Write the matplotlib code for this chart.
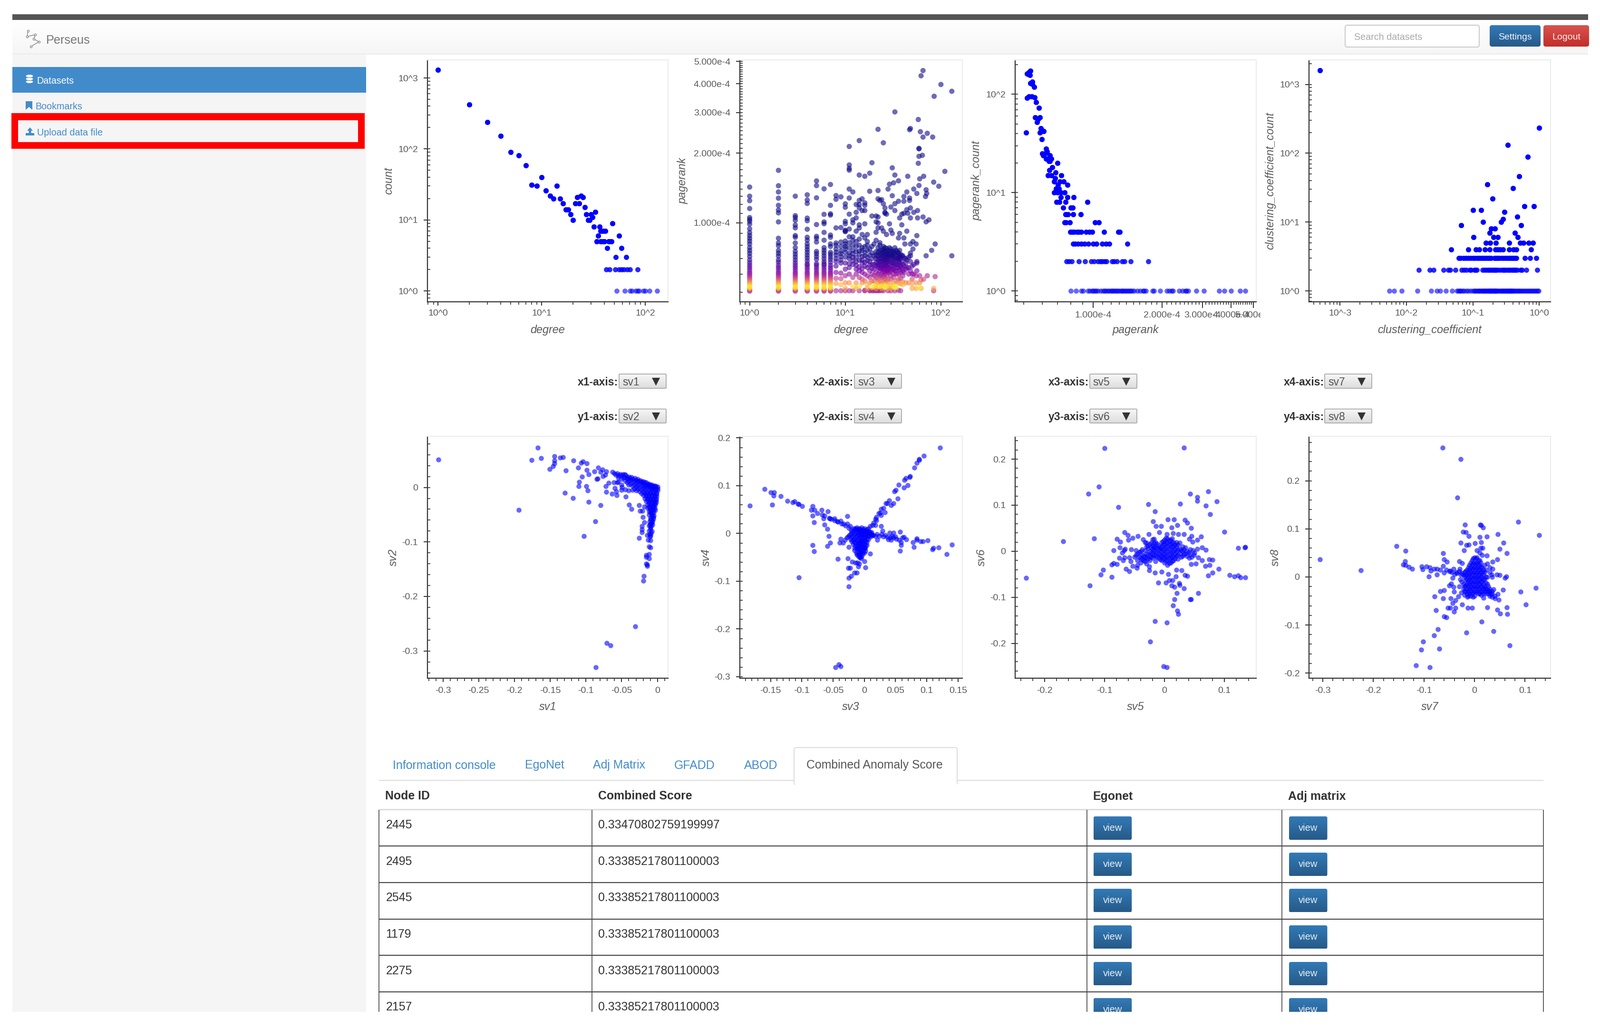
import numpy as np
import matplotlib as mpl
mpl.use("Agg")
import matplotlib.pyplot as plt
from matplotlib.patches import Rectangle, FancyBboxPatch, Ellipse, Polygon
from matplotlib.colors import LinearSegmentedColormap
from matplotlib.ticker import FixedLocator, FixedFormatter, FuncFormatter, LogLocator, MultipleLocator, NullFormatter
from matplotlib.transforms import Bbox

plt.rcParams['font.family'] = ['Liberation Sans', 'DejaVu Sans']
plt.rcParams['axes.unicode_minus'] = False

W, H = 3365, 2163

# degree histogram
degree = [1,2,3,4,5,6,7,8,9,10,11,12,13,14,15,16,17,18,19,20,21,22,23,24,25,26,27,28,29,30,31,32,33,34,35,36,37,
          38,39,41,43,48,52,56,59,65,34,37,39,40,44,45,47,42,45,51,56,59,62,67,71,84,
          53,63,71,74,81,84,87,96,100,110,130]
degree_count = [1300,420,237,153,91,81,59,31,30,40,26,22,20,30,20,17,14,14,12,10,17,21,17,22,21,15,12,10,10,12,11,8,13,5,6,8,7,
                7,7,7,4,9,3,6,4,3,5,5,5,5,5,5,5,2,2,2,2,2,2,2,2,2,
                1,1,1,1,1,1,1,1,1,1,1]

# degree / pagerank (pagerank in units of 1e-4)
pr_tail = [.655,.64,.625,.61,.60,.59,.58,.57,.56,.55,.54,.53,.525,.52,.515,.51,.506]
pr_columns = {
    1: [1.428,1.304,1.247,1.153,1.054,1.034,1.015,.987,.942,.907,.881,.857,.834,.81,.781,.759,.738,.715,.691,.672],
    2: [1.687,1.447,1.36,1.278,1.19,1.136,1.104,1.009,.857,.818,.796,.759,.738,.718,.691,.675],
    3: [1.304,1.074,1.054,1.025,.978,.951,.881,.866,.818,.781,.752,.731,.711,.691,.672],
    4: [1.322,1.255,1.213,1.048,1.021,.938,.866,.841,.81,.788,.766,.745,.724,.705,.685,.665],
    5: [1.518,1.449,1.283,.983,.874,.857,.826,.752,.735,.715,.695,.666],
    6: [1.403,1.088,1.009,.991,.909,.841,.781,.76,.74,.72,.70,.68,.665],
    7: [1.465,1.19,1.094,1.08,.885,.866,.81,.79,.745,.73,.712,.695,.675],
}
pr_sparse_d = [8,8,8,8,8,8,8,8,8,8,8,8,8,8,8, 9,9,9,9,9,9,9,9,9,9,9,9,9, 10,10,10,10,10,10,10,10,10,10,10,10,10,10,10,10,10,10]
pr_sparse_v = [1.312,1.264,.951,.818,.80,.77,.745,.725,.70,.68,.65,.61,.575,.547,.508,
               1.295,.954,.826,.79,.755,.735,.715,.69,.67,.606,.573,.54,.508,
               1.208,1.168,1.015,.991,.929,.916,.834,.81,.79,.77,.745,.71,.67,.63,.59,.55,.52,.508]
pr_upper_d = [65,62,100,130,85,33,58,22,48,47,61,72,65,82,14,25,11,59,59,59,64,19,58,11,11,11,31,18,110,14,16,33,45,66,60,36,84,32,29,59,95,
              28,11,52,70,12,18,22,44,71,56,69,31,41,11,47,47,14,15,22,23,24,13,14,16,16,25,33,36,41,30,14,15,16,26,26,33,
              44,48,57,52,45,39,41,13,11,19,21,22,26,27,37,48,57,65,75,70,13,12,12,16,14,21,22,29,39,
              14,13,11,10,22,24,25,30,44,31,15,17,21,27,37,56,11,12,14,16,36,41,12,13,17,21,51,55,87,48,42,80,51,70,130,56,48,23,25]
pr_upper_v = [4.56,4.33,3.97,3.71,3.53,3.02,2.8,2.54,2.56,2.53,2.48,2.44,2.35,2.35,2.27,2.22,2.14,2.09,2.1,1.94,1.96,1.82,1.81,1.78,1.72,1.69,1.73,1.64,1.67,1.61,1.59,1.61,1.59,1.59,1.55,1.52,1.5,1.49,1.47,1.45,1.44,
              1.4,1.4,1.4,1.39,1.36,1.37,1.38,1.36,1.34,1.34,1.3,1.31,1.3,1.28,1.28,1.25,1.25,1.27,1.27,1.25,1.26,1.2,1.2,1.22,1.19,1.21,1.21,1.24,1.24,1.17,1.16,1.13,1.13,1.16,1.11,1.13,
              1.14,1.16,1.13,1.11,1.1,1.09,1.1,1.11,1.09,1.07,1.07,1.06,1.1,1.09,1.05,1.05,1.05,1.06,1.03,1.01,1.05,1.03,1.0,.99,.98,1.01,1.0,.99,.98,
              .95,.92,.94,.92,.95,.95,.92,.93,.92,.9,.89,.89,.91,.89,.9,.88,.87,.87,.85,.86,.86,.86,.84,.83,.83,.84,.83,.81,.81,.81,.81,.76,.77,.72,.72,.68,.74,.82,.79]
pr_cluster = {
    11: [.82,.78,.74,.70,.64,.60,.55,.508], 12: [.80,.76,.71,.66,.58,.53,.508], 13: [.79,.75,.68,.63,.60,.55,.52],
    14: [.80,.73,.69,.62,.58,.53,.508], 15: [.78,.76,.67,.61,.57,.55], 16: [.79,.72,.65,.60,.56,.51,.508],
    17: [.80,.71,.64,.59,.54,.52], 18: [.77,.68,.62,.58,.55,.51,.508], 19: [.74,.66,.60,.56,.525,.508],
    20: [.81,.72,.66,.63,.59,.56,.53,.51,.508], 21: [.75,.70,.65,.61,.58,.54,.52,.508],
    22: [.78,.72,.67,.64,.60,.57,.55,.53,.51,.508], 23: [.76,.70,.66,.62,.59,.56,.53,.508],
    24: [.74,.70,.66,.63,.60,.58,.55,.52,.51], 25: [.77,.72,.68,.65,.61,.585,.56,.53,.508],
    26: [.78,.73,.69,.66,.63,.60,.57,.54,.525], 27: [.75,.71,.67,.62,.59,.56,.53], 28: [.76,.72,.68,.64,.61,.57,.55,.52,.508],
    30: [.77,.73,.70,.65,.62,.59,.57,.54,.52,.508], 32: [.75,.71,.67,.63,.60,.58,.55,.53], 33: [.53,.508,.525],
    34: [.76,.72,.69,.66,.62,.60,.56,.525], 36: [.74,.71,.68,.64,.60,.57,.55,.51], 38: [.73,.70,.65,.61,.575,.545,.508],
    40: [.72,.66,.62,.59,.555,.54], 43: [.70,.67,.63,.55], 46: [.71,.64,.60,.55], 50: [.65,.60,.57,.545,.52],
    55: [.59,.55,.52], 60: [.59,.55,.525], 62: [.565,.52], 66: [.57], 72: [.59], 84: [.52,.508], 87: [.585],
}
pr_cluster_more = {
    11: [.72,.665], 12: [.735,.685], 13: [.71,.655], 14: [.755,.645], 15: [.715,.69,.635], 16: [.745,.675], 17: [.76,.685],
    18: [.725,.655], 19: [.79,.70,.635], 21: [.725,.675], 22: [.745,.695,.655], 23: [.80,.73,.68,.635], 24: [.76,.72,.68,.645],
    25: [.745,.695,.63], 26: [.755,.71,.675,.645,.615], 27: [.775,.73,.69,.65], 28: [.74,.70,.66,.625],
    29: [.78,.725,.685,.64,.61], 30: [.75,.715,.675], 31: [.755,.72,.67,.63], 32: [.73,.69,.65], 33: [.78,.74,.70,.66,.62],
    35: [.75,.70,.64], 36: [.725,.695,.66], 37: [.76,.71,.67,.625], 39: [.72,.68,.635], 41: [.705,.65,.61], 44: [.69,.64],
    48: [.72,.68,.62], 52: [.66,.60], 56: [.67,.62],
}
# pagerank -> position on the plasma map (colour follows pagerank_count)
pr_colour_at = [.50, .51, .525, .535, .55, .575, .60, .64, .70, .75]
pr_colour_val = [.35, .40, .98, .90, .72, .45, .30, .15, .03, .0]

# pagerank histogram (pagerank in units of 1e-4)
pagerank_bin = [.533,.527,.52,.515,.53,.533,.544,.544,.553,.515,.526,.542,.558,.564,.581,.511,.56,.587,.575,.57,.593,.587,.609,.597,.599,
                .623,.63,.602,.618,.649,.606,.623,.649,.642,.658,.70,.665,.646,.688,.637,.659,.727,.685,.678,.717,.744,.704,.775,.689,.711,
                .678,.70,.725,.752,.725,.773,.824,.692,.713,.759,.945,.74,.802,.815,
                .758,.778,.818,.883,.751,.764,.794,1.02,1.062,
                .797,.813,.828,.851,.869,.89,.932,.964,.99,1.117,1.29,1.31,
                .818,.834,.86,.887,.917,.955,1.0,1.034,1.095,1.14,1.18,1.413,
                .765,.786,.807,.867,.924,.984,1.01,1.051,1.073,1.095,1.122,1.144,1.21,1.235,1.272,1.338,1.371,1.456,1.745]
pagerank_bin_count = [174,167,161,163,157,130,135,127,119,92,95,95,93,83,73,41,58,58,56,52,45,41,42,43,35,
                      28,26,25,25,24,24,22,21,21,22,20,18,17,16,15,15,15,14,13,13,13,12,12,11,11,
                      10,10,10,10,9,9,9,8,8,8,8,7,7,7,
                      6,6,6,6,5,5,5,5,5,
                      4,4,4,4,4,4,4,4,4,4,4,4,
                      3,3,3,3,3,3,3,3,3,3,3,3,
                      2,2,2,2,2,2,2,2,2,2,2,2,2,2,2,2,2,2,2]
pagerank_single = [.802,.843,.887,.905,.97,.99,1.02,1.051,1.106,1.14,1.175,1.21,1.247,1.285,1.325,1.379,1.42,1.46,1.51,1.604,1.703,1.815,1.96,2.1,2.235,2.373,2.52,2.6,2.815,3.037,3.546,3.73,4.0,4.38,4.6,
                   .95,1.0,1.03,1.08,1.12,1.16,1.2,1.23,1.265,1.3,1.34,1.36,1.4,1.44,1.48,1.56,1.65,1.67,1.84,2.15,2.2,2.45,2.55]

# clustering coefficient histogram
cc_bin = [.0005,1.0,.333,.667,.5,.166,.4,.198,.1,.133,.6,.83,.3,.465,.284,.266,.142,.0663,.533,.189,.216,.179,.43,.103,.2056,.239,.472,
          .157,.181,.221,.354,.514,.576,.694,.80,
          .0474,.0853,.112,.1246,.152,.178,.218,.237,.2585,.284,.354,.412,.452,.757]
cc_count = [1592,235,131,89,46,35,31,22,15,15,17,17,14,12,11,10,10,9,9,8,8,7,7,6,6,6,6,
            5,5,5,5,5,5,5,5,
            4,4,4,4,4,4,4,4,4,4,4,4,4,4]
cc_three = [.061,.066,.072,.078,.085,.092,.1,.108,.116,.125,.133,.142,.15,.16,.17,.18,.19,.21,.22,.23,.24,.25,.27,.29,.31,.33,.35,.37,.39,.41,.43,.45,.61,.73,.9]
cc_two = [.0154,.0224,.0258,.0364,.0426,.0457,.0547,.068,.073,.08,.09,.095,.105,.11,.115,.14,.15,.16,.17,.18,.19,.2,.21,.22,.23,.25,.27,.29,.3,.32,.34,.36,.38,.4,.42,.44,.47,.52,.55,.64,.93]
cc_one = [.0055,.0065,.0085,.0146,.0235,.0288,.032,.0396,.0491,.057,.06,.063,.066,.07,.074,.08,.086,.092,.1,.105,.11,.115,.12,.125,.13,.135,.14,.145,.15,.155,.16,.165,.17,.175,.18,.185,.19,.195,.2,.205,.21,.215,.22,.225,.23,.24,.25,.26,.27,.28,.29,.3,.31,.32,.33,.34,.35,.36,.37,.38,.39,.4,.42,.44,.46,.48,.5,.52,.55,.58,.61,.64,.67,.7,.74,.78,.82,.86,.9,.95,.98]

sv1_sv2 = [(-.3066,.0511),(-.1676,.0731),(-.176,.0499),(-.163,.0537),(-.1442,.057),(-.1363,.0549),(-.132,.0558),(-.1442,.0494),(-.1442,.0439),(-.1458,.0393),(-.1505,.0334),
           (-.1282,.0313),(-.1176,.049),(-.107,.0448),(-.1043,.0477),(-.0991,.0444),(-.1108,.0363),(-.0989,.0321),(-.0961,.0241),(-.1056,.0199),
           (-.0883,.0296),(-.0826,.0359),(-.0798,.0287),(-.0771,.0325),(-.076,.0207),(-.0731,.0232),(-.0717,.0296),(-.0847,.0152),(-.0835,.0158),(-.1092,.0101),(-.1103,.0025),(-.0997,.0021),(-.0975,-.0059),
           (-.1293,-.0101),(-.1179,-.0194),(-.0961,-.0262),(-.1942,-.041),(-.0796,-.0325),(-.0872,-.0621),(-.1029,-.0891),
           (-.0725,.0021),(-.0717,-.0084),(-.0684,.0084),(-.0608,.0093),(-.0597,-.0013),(-.0636,-.0118),(-.0562,.0093),(-.0576,-.0076),(-.057,-.0139),
           (-.0494,.0008),(-.0445,-.0173),(-.0399,-.0321),(-.0364,-.0393),(-.0255,-.033),(-.0182,-.0351),(-.0244,-.0427),(-.0209,-.0427),(-.0201,-.0541),(-.0182,-.0638),
           (-.0217,-.071),(-.0217,-.0773),(-.0217,-.0824),(-.0255,-.0929),(-.0141,-.0879),(-.01,-.0887),(-.0128,-.0963),(-.01,-.0972),(-.012,-.1082),(-.01,-.1098),
           (-.0155,-.1238),(-.012,-.1225),(-.0155,-.128),(-.012,-.1301),(-.0155,-.1398),(-.0141,-.1415),(-.0141,-.1441),(-.0187,-.1627),(-.0196,-.1715),
           (-.0307,-.2552),(-.0712,-.2856),(-.0657,-.2898),(-.0864,-.33),
           (-.063,.028),(-.06,.026),(-.056,.026),(-.052,.024),(-.048,.024),(-.0454,.024),(-.044,.022),(-.04,.02),(-.036,.019),(-.032,.017),(-.028,.015),(-.024,.013),(-.02,.011),(-.016,.009),(-.012,.007),(-.008,.005),(-.004,.003),(0,.001),
           (-.055,.018),(-.05,.015),(-.045,.012),(-.04,.013),(-.035,.01),(-.03,.008),(-.025,.007),(-.02,.005),(-.015,.004),(-.01,.002),(-.005,.001),(-.04,.005),(-.035,.003),(-.03,.001),(-.025,.0),(-.02,-.001),(-.015,-.001),(-.01,-.002),(-.005,-.002),(0,-.002),
           (-.03,-.006),(-.025,-.007),(-.02,-.008),(-.015,-.008),(-.01,-.008),(-.005,-.008),(0,-.006),(-.05,.005),(-.055,.01),(-.045,-.004),(-.05,-.005),(-.04,-.006),(-.035,-.005),
           (-.02,-.014),(-.016,-.014),(-.012,-.014),(-.008,-.014),(-.004,-.014),(-.001,-.012),(-.018,-.02),(-.014,-.02),(-.01,-.02),(-.006,-.02),(-.002,-.02),(-.016,-.026),(-.012,-.026),(-.008,-.026),(-.004,-.026),
           (-.014,-.032),(-.01,-.032),(-.006,-.032),(-.003,-.032),(-.014,-.038),(-.011,-.038),(-.007,-.038),(-.004,-.038),(-.012,-.044),(-.009,-.044),(-.005,-.046),(-.012,-.05),(-.008,-.05),(-.006,-.054),(-.01,-.056),(-.008,-.06),(-.011,-.063),(-.007,-.062),(-.009,-.066),(-.012,-.07),(-.009,-.071),(-.01,-.077),(-.008,-.081),(-.011,-.086)]
sv1_sv2_core = [(-.0475,.018),(-.0425,.016),(-.0375,.014),(-.0325,.012),(-.0275,.011),(-.0225,.009),(-.0175,.007),(-.0125,.005),(-.0075,.003),(-.0025,.002),(-.0425,.009),(-.0375,.007),(-.0325,.005),(-.0275,.004),(-.0225,.003),(-.0175,.002),(-.0125,.001),(-.0075,0),(-.0025,-.001),
                (-.0325,-.002),(-.0275,-.003),(-.0225,-.004),(-.0175,-.004),(-.0125,-.005),(-.0075,-.005),(-.0025,-.005),(-.0225,-.011),(-.018,-.011),(-.014,-.011),(-.01,-.011),(-.006,-.011),(-.002,-.01),(-.016,-.017),(-.012,-.017),(-.008,-.017),(-.004,-.017),(-.001,-.016),
                (-.014,-.023),(-.01,-.023),(-.006,-.023),(-.002,-.023),(-.012,-.029),(-.008,-.029),(-.004,-.029),(-.002,-.027),(-.012,-.035),(-.008,-.035),(-.005,-.035),(-.01,-.041),(-.006,-.041),(-.003,-.041),(-.01,-.047),(-.007,-.047),(-.008,-.053),(-.005,-.052),(-.0095,-.059),(-.006,-.058),(-.008,-.0645),(-.0105,-.068),(-.007,-.068),(-.0095,-.074),(-.0115,-.08),(-.009,-.084),(-.0105,-.09),
                (-.058,.023),(-.054,.021),(-.05,.022),(-.046,.019),(-.042,.018),(-.038,.017),(-.034,.015),(-.03,.014),(-.026,.012),(-.022,.01),(-.018,.009),(-.014,.006),(-.01,.004),(-.006,.002)]

sv3_sv4 = [(.1214,.1798),(.0954,.1624),(.0881,.1557),(.0874,.1537),(.0842,.1475),(.08,.1378),(.0736,.12),(.0727,.1181),(.0666,.1161),(.064,.1123),(.0551,.1017),(.0631,.0964),(.0698,.1007),
           (.0506,.0911),(.0484,.0882),(.0535,.0733),(.0464,.0627),(.04,.0694),(.0368,.0631),(.0343,.0631),(.0426,.0588),(.0304,.053),(.0272,.0516),(.033,.0443),(.0256,.0434),(.0272,.0381),(.0234,.0419),
           (.0192,.0347),(.0176,.0299),(.0192,.0275),(.0144,.0227),(.0128,.0178),(.0096,.0154),(.0064,.0106),(.0176,.0178),(.0272,.0154),
           (-.1832,.0583),(-.1595,.0925),(-.1499,.0863),(-.1441,.0863),(-.1451,.0795),(-.1473,.0598),(-.1335,.0776),(-.1233,.0684),(-.1143,.0651),(-.1118,.0675),(-.1066,.0622),(-.1047,.0612),(-.0996,.0573),
           (-.0826,.0573),(-.0849,.0492),(-.08,.0492),(-.0826,.0371),(-.0804,.0236),(-.0752,.0419),(-.0679,.0487),(-.0586,.0467),(-.0672,.0395),(-.064,.0371),(-.065,.0313),(-.056,.0323),(-.064,.0188),(-.0592,.0096),(-.057,-.0053),(-.0544,-.0193),(-.0592,-.026),
           (-.0826,-.0246),(-.0807,-.0376),(-.1044,-.0925),(-.0528,.0299),(-.048,.0313),(-.0432,.0251),(-.0375,.0265),(-.0336,.0202),(-.0272,.0202),(-.0272,.0361),(-.0224,.0154),(-.0176,.0106),(-.0128,.0082),
           (-.0375,-.0111),(-.0394,-.0193),(-.0343,-.0198),(-.0311,-.0135),(-.0279,-.0087),(-.025,-.028),(-.0256,-.0063),(-.0423,-.0535),
           (.0128,-.0039),(.0176,-.0053),(.024,-.0053),(.0304,-.0063),(.0368,-.0072),(.0416,-.0087),(.0464,-.0087),(.0512,-.0111),(.056,-.0135),(.0608,-.0087),(.0634,-.0077),(.0669,-.0125),(.0586,-.0183),(.0576,-.0361),(.0586,-.0246),(.0576,.0034),(.0464,.0014),(.0406,.0014),(.0288,.0058),(.0208,-.0135),(.0384,-.012),(.0432,-.0135),
           (.0775,-.0183),(.0797,-.028),(.0836,-.0101),(.0836,-.0135),(.0903,-.0169),(.0938,-.0169),(.1015,-.014),(.1089,-.0333),(.1105,-.0304),(.1191,-.0294),(.1319,-.0429),(.1403,-.0236),
           (-.0096,-.0255),(-.0064,-.0207),(-.0032,-.028),(-.016,-.0352),(-.0128,-.04),(-.0096,-.0472),(-.0064,-.04),(-.0048,-.052),(0,-.0583),(0,-.04),(.0096,-.0424),(-.0192,-.0593),(-.0144,-.0617),(-.0112,-.0617),(-.008,-.0631),(-.0096,-.0689),(.0016,-.0713),(-.0256,-.0718),(-.0224,-.0718),(-.016,-.0819),(-.0118,-.0819),(-.0208,-.0892),(-.0247,-.093),(-.0247,-.1113),(-.0266,-.0525),(-.0064,-.0496),(0,-.0304),(-.0112,-.0328),(-.016,-.0304),(-.0048,-.0159),
           (-.0458,-.28),(-.0407,-.2742),(-.0381,-.2781),
           (-.024,-.004),(-.02,.002),(-.016,.008),(-.012,.012),(-.008,.01),(-.004,.012),(0,.01),(.004,.008),(.008,.004),(.012,.002),(-.022,-.012),(-.018,-.006),(-.014,0),(-.01,.004),(-.006,.004),(-.002,.004),(.002,.002),(.006,0),(.01,-.002),(.014,-.004),
           (-.02,-.016),(-.016,-.012),(-.012,-.006),(-.008,-.002),(-.004,-.002),(0,-.002),(.004,-.004),(.008,-.006),(-.018,-.022),(-.014,-.018),(-.01,-.012),(-.006,-.008),(-.002,-.008),(.002,-.008),(.006,-.012),(-.012,-.024),(-.008,-.018),(-.004,-.014),(0,-.014),(.004,-.018),
           (-.01,-.03),(-.006,-.024),(-.002,-.02),(.002,-.024),(-.004,-.03),(0,-.03),(-.006,-.036),(-.002,-.038),(.002,-.036),(-.008,-.044),(-.004,-.048)]
sv3_sv4_core = [(-.022,-.002),(-.018,.004),(-.014,.01),(-.01,.008),(-.006,.008),(-.002,.008),(.002,.006),(.006,.004),(.01,.001),(-.02,-.008),(-.016,-.002),(-.012,.002),(-.008,.004),(-.004,.005),(0,.003),(.004,.001),(.008,-.001),(.012,-.003),(-.018,-.013),(-.014,-.009),(-.01,-.004),(-.006,-.002),(-.002,-.003),(.002,-.004),(.006,-.005),(.01,-.007),
                (-.016,-.018),(-.012,-.014),(-.008,-.01),(-.004,-.008),(0,-.009),(.004,-.011),(-.014,-.025),(-.01,-.02),(-.006,-.016),(-.002,-.014),(.002,-.016),(-.012,-.03),(-.008,-.026),(-.004,-.021),(0,-.021),(.004,-.024),(-.008,-.033),(-.002,-.029),(.002,-.03),(-.01,-.04),(-.004,-.036),(-.006,-.042),(-.012,-.044),(-.003,-.043),(-.007,-.05),
                (.028,-.002),(.02,-.002),(.034,-.004),(.044,-.006),(.05,-.007),(-.03,.016),(-.036,.02),(-.042,.024),(-.048,.027),(-.055,.031),(-.025,.011),(-.021,.006)]

sv5_sv6 = [(-.2309,-.0584),(-.1694,.022),(-.1176,.0275),(-.127,.1248),(-.1093,.1403),(-.0999,.2237),(.0321,.2247),(-.0768,.0954),(-.0271,.1018),(-.0157,.0869),(.0261,.1033),(.0424,.1243),(.0545,.1178),(.0545,.1093),(.0732,.1303),(.0872,.1078),(.0692,.0989),(.0762,.0799),
           (.0996,.0419),(.123,.007),(.1336,.0085),(.1347,.009),(.1089,-.0519),(.1169,-.0549),(.123,-.0529),(.127,-.0569),(.1346,-.0564),(.0902,-.0379),(.0802,-.0464),(.0725,-.0529),
           (.0565,-.0914),(.0444,-.1043),(.0428,-.1043),(.0204,-.0914),(.0167,-.1043),(.0144,-.1178),(.021,-.1288),(.0227,-.1368),(.0037,-.1553),(-.0157,-.1518),(-.0241,-.1962),(-.0013,-.2501),(.0037,-.2516),
           (-.1243,-.0739),(-.1066,-.0504),(-.1026,-.0399),(-.0879,-.0554),
           (-.0792,.027),(-.0735,.021),(-.0748,.008),(-.0665,.041),(-.0615,.035),(-.0601,.025),(-.0531,.029),(-.0448,.033),(-.0658,.0055),(-.0558,.0045),(-.0675,.002),(-.0708,-.003),(-.0849,.002),(-.0758,-.015),(-.0668,-.013),(-.0692,-.0195),(-.0585,-.014),(-.0568,-.022),
           (-.0885,-.029),(-.0849,-.0255),(-.0792,-.028),(-.0641,-.038),(-.0585,-.043),(-.0531,-.032),(-.0458,-.0365),(-.0474,.002),(-.0251,-.033),(-.0251,-.0415),(-.0157,-.047),(-.0047,-.044),(.006,-.0495),(.002,-.068),(.0077,-.063),(.0137,-.063),(-.0107,-.0685),(.012,-.074),(.0167,-.078),(.0244,-.069),(.0254,-.073),(.0321,-.081),
           (.0187,-.0545),(.02,-.04),(.0287,-.041),(.0344,-.052),(.0378,-.054),(.0444,-.028),(.0521,-.0265),(.0678,-.032),(.0752,-.0305),(.0802,-.019),(.0745,-.018),(.0628,-.0195),(.0565,-.013),(.0411,-.0145),(.0494,-.008),(.0688,.0035),(.0628,.008),(.0545,.0055),(.0478,.002),
           (.0611,.032),(.0545,.0245),(.0468,.021),(.0411,.027),(.0454,.033),(.0327,.037),(.0227,.037),(.0378,.062),(.0444,.0505),(.0344,.0685),(.021,.057),(.016,.0695),(.0053,.0695),(.012,.052),(-.0057,.0545),(-.014,.0545),(-.019,.0645),(-.009,.041),(.0037,.037),(-.0264,.037),(-.0174,.027),(-.0357,.026),(.0144,.0395),
           (-.05,-.012),(-.045,-.02),(-.045,-.005),(-.04,-.015),(-.04,-.025),(-.04,.0),(-.035,-.01),(-.035,-.02),(-.03,-.005),(-.03,-.015),(-.03,.01),(-.03,.018),(-.025,.0),(-.025,-.01),(-.025,.015),(-.025,-.02),(-.02,.005),(-.02,-.005),(-.02,.012),(-.02,-.015),(-.015,.01),(-.015,0),(-.015,-.01),(-.015,.02),
           (-.01,.005),(-.01,-.005),(-.01,.012),(-.01,-.015),(-.005,.01),(-.005,0),(-.005,-.01),(-.005,.02),(-.005,-.02),(0,.015),(0,.005),(0,-.005),(0,-.015),(0,.025),(0,-.025),(.005,.02),(.005,.01),(.005,0),(.005,-.01),(.005,-.02),(.005,.028),(.005,-.03),
           (.01,.015),(.01,.005),(.01,-.005),(.01,-.015),(.01,.025),(.01,-.025),(.015,.02),(.015,.01),(.015,0),(.015,-.01),(.015,-.02),(.02,.01),(.02,0),(.02,-.01),(.02,.02),(.025,.005),(.025,-.005),(.03,0),(.03,-.01),(.035,-.005),(.04,-.002),(.035,.008)]
sv5_sv6_core = [(-.0475,-.008),(-.0425,-.012),(-.0425,-.002),(-.0375,-.007),(-.0375,-.018),(-.0375,.004),(-.0325,-.012),(-.0325,.002),(-.0325,-.022),(-.0275,-.007),(-.0275,.006),(-.0275,.012),(-.0275,-.017),(-.0225,-.003),(-.0225,.008),(-.0225,-.012),(-.0225,.018),(-.0175,.002),(-.0175,-.008),(-.0175,.008),(-.0175,.017),
                (-.0125,.007),(-.0125,-.003),(-.0125,-.012),(-.0125,.016),(-.0075,.002),(-.0075,-.008),(-.0075,.008),(-.0075,-.018),(-.0025,.014),(-.0025,.004),(-.0025,-.006),(-.0025,-.016),(-.0025,.022),(.0025,.02),(.0025,.009),(.0025,-.001),(.0025,-.011),(.0025,-.021),(.0025,.029),
                (.0075,.024),(.0075,.014),(.0075,.004),(.0075,-.006),(.0075,-.016),(.0075,-.026),(.0125,.018),(.0125,.009),(.0125,-.002),(.0125,-.012),(.0125,-.022),(.0125,.028),(.0175,.014),(.0175,.004),(.0175,-.006),(.0175,-.016),(.0225,.014),(.0225,.003),(.0225,-.007),(.0225,-.017),
                (.0275,.002),(.0275,-.012),(.0325,.004),(.0325,-.006),(.0375,.0),(.0375,-.01),(.0425,-.006),(.0425,.004),(.025,.018),(.03,.01),(-.033,.02),(-.02,.026),(-.015,-.022),(-.045,-.03),(-.03,-.027),(.045,-.012),(.05,-.003)]

sv7_sv8 = [(-.3053,.0364),(-.2245,.0139),(-.1547,.0637),(-.1363,.0546),(-.1376,.0326),(-.1408,.0259),(-.1363,.0244),(-.1294,.0211),(-.1229,.0163),(-.0629,.2692),(-.0269,.2447),(-.0335,.1652),
           (.0861,.1145),(.1278,.0867),(-.0192,.1082),(.0114,.1082),(.0135,.1073),(.0167,.1025),(-.0224,.0939),(-.0167,.0924),(-.011,.0852),(.0106,.0833),(.0241,.0843),(.0461,.0886),
           (.0576,.0709),(.0498,.058),(.0641,.0493),(-.0269,.0714),(-.0159,.0661),(-.011,.0675),(.0012,.0699),(.0135,.0723),(.0155,.0603),(-.0212,.0556),(-.062,.0493),(-.06,.0364),(-.0547,.0316),(-.0306,.033),(-.0241,.0283),(.0449,.0364),(.0359,.0316),(.0241,.0441),
           (-.1041,.022),(-.1029,.0158),(-.0947,.022),(-.0886,.0196),(-.0804,.0172),(-.0743,.0163),(-.0682,.0148),(-.062,.023),(-.0559,.0148),(-.0478,.0125),(-.0416,.0172),(-.0355,.0101),(-.0294,.0172),(-.0273,.0053),(-.0743,.0053),(-.0906,.0005),(-.0865,.0125),(-.06,.0086),
           (-.0437,-.0019),(-.0457,-.0139),(-.0498,-.0177),(-.0416,-.0211),(-.0408,-.0306),(-.06,-.0282),(-.0682,-.0297),(-.0792,-.0402),(-.062,-.0441),(-.0469,-.0441),(-.0322,-.0402),(-.0376,-.0489),(-.0437,-.0546),(-.0241,-.057),(-.0527,-.0642),(-.0478,-.0642),(-.0376,-.0642),(-.0408,-.0723),(-.0763,-.0689),(-.06,-.0823),(-.0559,-.0843),
           (-.0722,-.1087),(-.0804,-.1216),(-.102,-.1346),(-.1057,-.1513),(-.0694,-.1489),(-.1159,-.1838),(-.0882,-.1877),(-.0159,-.1154),(.0143,-.0929),(.0371,-.113),(.0698,-.1422),(-.0131,-.0642),(-.0049,-.0642),(.0257,-.0632),(.0637,-.0632),(.0453,-.068),(.051,-.0761),(.0649,-.0776),(.1016,-.0579),(.0914,-.0312),(.1208,-.0225),
           (.0216,-.0235),(.0278,-.0283),(.0318,-.0354),(.038,-.0259),(.04,-.045),(.0461,-.0354),(.0482,-.0474),(.0176,-.044),(.0135,-.0378),(.0563,-.0268),(.0604,-.0019),(.0633,.0005),(.0441,.0053),(.0502,.0038),(.0359,.0172),(.0339,.0053),
           (-.025,-.01),(-.02,.01),(-.02,-.02),(-.02,0),(-.02,-.03),(-.015,.015),(-.015,.005),(-.015,-.005),(-.015,-.015),(-.015,-.025),(-.015,-.035),(-.01,.025),(-.01,.015),(-.01,.005),(-.01,-.005),(-.01,-.015),(-.01,-.025),(-.01,-.035),
           (-.005,.035),(-.005,.025),(-.005,.015),(-.005,.005),(-.005,-.005),(-.005,-.015),(-.005,-.025),(-.005,-.035),(0,.04),(0,.03),(0,.02),(0,.01),(0,0),(0,-.01),(0,-.02),(0,-.03),(0,-.04),(.005,.04),(.005,.03),(.005,.02),(.005,.01),(.005,0),(.005,-.01),(.005,-.02),(.005,-.03),
           (.01,.035),(.01,.025),(.01,.015),(.01,.005),(.01,-.005),(.01,-.015),(.01,-.025),(.01,-.035),(.015,.02),(.015,.01),(.015,0),(.015,-.01),(.015,-.02),(.015,-.03),(.02,.025),(.02,.01),(.02,-.005),(.02,-.02),(.02,-.03),(.025,0),(.025,-.015),(.025,-.03),(.03,.01),(.03,-.03),(.035,-.035),(.03,-.04),(.015,.045),(.01,.05),(.005,.055),(.012,.06)]
sv7_sv8_core = [(-.022,.005),(-.022,-.015),(-.022,-.025),(-.0175,.012),(-.0175,.003),(-.0175,-.007),(-.0175,-.018),(-.0175,-.03),(-.0125,.02),(-.0125,.01),(-.0125,0),(-.0125,-.01),(-.0125,-.02),(-.0125,-.03),(-.0125,-.04),(-.0075,.03),(-.0075,.02),(-.0075,.01),(-.0075,0),(-.0075,-.01),(-.0075,-.02),(-.0075,-.03),(-.0075,-.04),
                (-.0025,.038),(-.0025,.028),(-.0025,.018),(-.0025,.008),(-.0025,-.002),(-.0025,-.012),(-.0025,-.022),(-.0025,-.032),(-.0025,-.042),(.0025,.038),(.0025,.028),(.0025,.018),(.0025,.008),(.0025,-.002),(.0025,-.012),(.0025,-.022),(.0025,-.032),
                (.0075,.035),(.0075,.025),(.0075,.015),(.0075,.005),(.0075,-.005),(.0075,-.015),(.0075,-.025),(.0075,-.035),(.0125,.03),(.0125,.02),(.0125,.01),(.0125,0),(.0125,-.01),(.0125,-.02),(.0125,-.03),(.0175,.015),(.0175,.005),(.0175,-.005),(.0175,-.015),(.0175,-.025),(.0175,-.035),
                (.0225,.015),(.0225,0),(.0225,-.012),(.0225,-.025),(.0275,-.02),(.0275,-.035),(.03,-.025),(.0225,-.035),(.035,-.03),(-.03,.012),(-.035,.008),(-.025,.008),(-.028,-.005),(-.03,-.02),(-.026,-.033),(-.02,-.038),(-.014,-.042),(-.045,.01),(-.05,.012),(-.04,.006),(.04,-.04),(.035,-.042),(.03,.02),(.035,.0),(.025,.028)]

node_ids = ["2445", "2495", "2545", "1179", "2275", "2157"]
node_scores = ["0.33470802759199997", "0.33385217801100003", "0.33385217801100003",
               "0.33385217801100003", "0.33385217801100003", "0.33385217801100003"]
tab_names = ["Information console", "EgoNet", "Adj Matrix", "GFADD", "ABOD"]

BLUE = "#0000ff"
GREY = "#5a5a5a"
LINK = "#428bca"

fig = plt.figure(figsize=(W / 100, H / 100), dpi=100)
fig.patch.set_facecolor("white")

# page chrome goes on a full-size axes in pixel coordinates
ui = fig.add_axes([0, 0, 1, 1], zorder=0)
ui.set_xlim(0, W)
ui.set_ylim(H, 0)
ui.axis("off")


def rect(l, t, r, b, c, z=1, ec="none", lw=0):
    ui.add_patch(Rectangle((l, t), r - l, b - t, fc=c, ec=ec, lw=lw, zorder=z))


def grad(l, t, r, b, c1, c2, rad=5, z=2):
    box = FancyBboxPatch((l + rad, t + rad), r - l - 2 * rad, b - t - 2 * rad,
                         boxstyle="round,pad=%g,rounding_size=%g" % (rad, rad),
                         fc="none", ec="none", zorder=z)
    ui.add_patch(box)
    cm = LinearSegmentedColormap.from_list("g", [c1, c2])
    im = ui.imshow(np.linspace(0, 1, 64)[:, None], cmap=cm, extent=(l, r, b, t), aspect="auto", zorder=z)
    im.set_clip_path(box)
    ui.set_xlim(0, W)
    ui.set_ylim(H, 0)


def label(x, y, s, size=14.2, c="#333333", ha="left", weight="normal", z=5):
    # centre baseline sits a little high for these fonts
    ui.text(x, y + 2.5, s, fontsize=size, color=c, ha=ha, va="center", fontweight=weight, zorder=z)


# top bars and sidebar
rect(26, 30, 3340, 42, "#555555", 3)
grad(26, 42, 3340, 112, "#ffffff", "#f6f6f6", rad=0, z=2)
rect(26, 112, 3340, 115, "#eeeeee", 2)
rect(26, 112, 770, 2129, "#f5f5f5", 1)
rect(26, 141, 770, 195, "#428bca", 2)
rect(24, 238, 767, 313, "#ff0000", 2)
rect(38, 253, 753, 299, "#f5f5f5", 3)

logo_x = [58.7, 57, 74, 71, 81.6, 65]
logo_y = [65, 77, 73, 82, 88, 98]
ui.plot(logo_x, logo_y, color="#8a8a8a", lw=1.1, marker="o", ms=3, mfc="white", mec="#8a8a8a", zorder=4)
label(97, 82, "Perseus", 18.2, "#777777")

for yy in [172, 166, 160]:
    ui.add_patch(Ellipse((62, yy), 16, 7, fc="white", ec="#428bca", lw=0.8, zorder=4))
label(77, 168, "Datasets", 14.2, "white")
ui.add_patch(Polygon([(54, 213), (68, 213), (68, 231), (61, 225), (54, 231)], fc=LINK, ec="none", zorder=4))
label(74, 222, "Bookmarks", 14.2, LINK)
ui.add_patch(Polygon([(63, 268), (69, 275), (65.5, 275), (65.5, 281), (60.5, 281), (60.5, 275), (57, 275)], fc=LINK, ec="none", zorder=4))
rect(54, 280, 72, 285, LINK, 4)
label(78, 277, "Upload data file", 14.2, LINK)

# navbar right
ui.add_patch(FancyBboxPatch((2834, 58), 272, 36, boxstyle="round,pad=5,rounding_size=5", fc="white", ec="#cccccc", lw=1.5, zorder=3))
label(2848, 76, "Search datasets", 14.2, "#aaaaaa")
grad(3133, 53, 3240, 98, "#337ab7", "#265a88")
label(3186.5, 76, "Settings", 14, "#f2f6fa", "center")
grad(3246, 53, 3342, 98, "#d9534f", "#c12e2a")
label(3294, 76, "Logout", 14, "#fbeeee", "center")

# axis selectors
selectors = [(1300, 1302, 1401, 1309, 1380, "x1-axis:", "sv1", "y1-axis:", "sv2"),
             (1795, 1797, 1896, 1804, 1875, "x2-axis:", "sv3", "y2-axis:", "sv4"),
             (2290, 2292, 2391, 2298, 2369, "x3-axis:", "sv5", "y3-axis:", "sv6"),
             (2785, 2786, 2885, 2793.5, 2864, "x4-axis:", "sv7", "y4-axis:", "sv8")]
for lab_r, bl, br, val_x, arrow_x, xname, xval, yname, yval in selectors:
    for top, bot, name, val in [(787, 817, xname, xval), (860.6, 890, yname, yval)]:
        grad(bl, top, br, bot, "#f7f7f7", "#dddddd", rad=1.5, z=2)
        ui.add_patch(FancyBboxPatch((bl + 1.5, top + 1.5), br - bl - 3, bot - top - 3, boxstyle="round,pad=1.5,rounding_size=1.5",
                                    fc="none", ec="#aaaaaa", lw=1.3, zorder=3))
        label(lab_r, (top + bot) / 2, name, 16.5, "#333333", "right", "bold")
        label(val_x, (top + bot) / 2, val, 16.5, "#555555")
        ui.text(arrow_x, (top + bot) / 2, "\u25bc", fontsize=16, color="#333333", ha="center", va="center", family="DejaVu Sans", zorder=5)

# tabs
tab_x = [825.6, 1104, 1247, 1418, 1565]
for tx, name in zip(tab_x, tab_names):
    label(tx, 1608, name, 17.9, LINK)
rect(797, 1641, 3246, 1643, "#dddddd", 2)
ui.add_patch(FancyBboxPatch((1674, 1577), 335, 70, boxstyle="round,pad=4,rounding_size=4", fc="white", ec="#dddddd", lw=1.5, zorder=3))
rect(1672, 1643, 2012, 1660, "white", 3)
label(1696, 1608, "Combined Anomaly Score", 17.9, "#555555")

# table
for hx, name in zip([810, 1258, 2298, 2709.5], ["Node ID", "Combined Score", "Egonet", "Adj matrix"]):
    label(hx, 1673, name, 17.9, "#333333", weight="bold")
rect(797, 1701.5, 3246, 1704.5, "#dddddd", 2)
for vx in [797.4, 1245, 2285.7, 2696, 3246]:
    ui.plot([vx, vx], [1704, 2140], color="#333333", lw=1.1, zorder=3, solid_capstyle="butt")
for hy in [1780.4, 1857, 1933.5, 2010, 2087]:
    ui.plot([797, 3246], [hy, hy], color="#444444", lw=1.5, zorder=3, solid_capstyle="butt")
row_y = [1733.5, 1810, 1887, 1963.5, 2040, 2116]
btn_top = [1717.7, 1794, 1870, 1947, 2024, 2100]
for ry, bt, nid, score in zip(row_y, btn_top, node_ids, node_scores):
    label(811.5, ry, nid, 17.9, "#333333")
    label(1258.5, ry, score, 17.9, "#333333")
    for bl in [2299.7, 2711]:
        grad(bl, bt, bl + 80.5, bt + 49.5, "#337ab7", "#265a88", rad=4)
        label(bl + 40, bt + 22, "view", 14.5, "#e8eff6", "center")

# the screenshot stops here
rect(0, 2129, W, H, "white", 8)


def make_axes(l, t, r, b):
    ax = fig.add_axes([l / W, 1 - b / H, (r - l) / W, (b - t) / H], zorder=2)
    ax.patch.set_alpha(0)
    for side in ["top", "right"]:
        ax.spines[side].set_color("#ececec")
        ax.spines[side].set_linewidth(1.5)
    for side in ["left", "bottom"]:
        ax.spines[side].set_color("#333333")
        ax.spines[side].set_linewidth(1.6)
    ax.tick_params(axis="both", which="major", direction="out", length=6, width=1.3, color="#222222", labelcolor=GREY, labelsize=14)
    ax.tick_params(axis="x", which="major", pad=5.5)
    ax.tick_params(axis="y", which="major", pad=8)
    ax.tick_params(axis="x", which="minor", direction="out", length=4, width=1.2, color="#333333")
    ax.tick_params(axis="y", which="minor", direction="in", length=4, width=1.2, color="#333333")
    ax.xaxis.remove_overlapping_locs = False
    ax.yaxis.remove_overlapping_locs = False
    return ax


def name_axes(ax, xname, yname, y_lab_px, l, t, r, b, x_lab_px):
    ax.set_xlabel(xname, fontsize=16.8, style="italic", color=GREY)
    ax.set_ylabel(yname, fontsize=16.8, style="italic", color=GREY)
    ax.xaxis.set_label_coords(0.5, (b - x_lab_px) / (b - t))
    ax.yaxis.set_label_coords((y_lab_px - l) / (r - l), 0.5)
    ax.xaxis.label.set_verticalalignment("center")
    ax.yaxis.label.set_verticalalignment("center")


pow_fmt = FuncFormatter(lambda v, p: "10^%d" % round(np.log10(v)))
num_fmt = FuncFormatter(lambda v, p: "%g" % round(v, 3))


def log_ticks(axis):
    axis.set_major_locator(LogLocator(base=10, subs=[1.0], numticks=12))
    axis.set_minor_locator(LogLocator(base=10, subs=np.arange(1, 10), numticks=12))
    axis.set_major_formatter(pow_fmt)
    axis.set_minor_formatter(NullFormatter())


pr_major = [1e-4, 2e-4, 3e-4, 4e-4, 5e-4]
pr_major_lab = ["1.000e-4", "2.000e-4", "3.000e-4", "4.000e-4", "5.000e-4"]
pr_minor = [v * 1e-5 for v in [5, 6, 7, 8, 9]] + [v * 1e-5 for v in range(10, 51)]


def pr_ticks(axis):
    axis.set_major_locator(FixedLocator(pr_major))
    axis.set_major_formatter(FixedFormatter(pr_major_lab))
    axis.set_minor_locator(FixedLocator(pr_minor))
    axis.set_minor_formatter(NullFormatter())


T1, B1 = 125.7, 634.6
T2, B2 = 918, 1427
xl1, xl2 = 695, 1487
COLS = [(898.6, 1405), (1555.5, 2023.5), (2135, 2642), (2753, 3260.6)]
S_TOP, S_BOT = 60, 58


# repeats show up as darker dots, the way the page stacked one dot per node
def stacked(xs, ys):
    rep = np.minimum(np.array(ys, dtype=int), 6)
    return np.repeat(xs, rep), np.repeat(ys, rep)


# degree / count
l, r = COLS[0]
ax = make_axes(l, T1, r, B1)
ax.set_xscale("log")
ax.set_yscale("log")
xs, ys = stacked(degree, degree_count)
ax.scatter(xs, ys, s=S_TOP, c=BLUE, alpha=0.6, linewidths=0)
ax.set_xlim(10 ** -0.105, 10 ** 2.219)
ax.set_ylim(10 ** -0.151, 10 ** 3.257)
log_ticks(ax.xaxis)
log_ticks(ax.yaxis)
name_axes(ax, "degree", "count", 818, l, T1, r, B1, xl1)

# degree / pagerank
l, r = COLS[1]
ax = make_axes(l, T1, r, B1)
ax.set_xscale("log")
ax.set_yscale("log")
deg_all, pr_all = [], []
for d, vals in pr_columns.items():
    vals = vals + pr_tail
    deg_all += [d] * len(vals)
    pr_all += vals
deg_all += pr_sparse_d + pr_upper_d
pr_all += pr_sparse_v + pr_upper_v
for group in [pr_cluster, pr_cluster_more]:
    for d, vals in group.items():
        deg_all += [d] * len(vals)
        pr_all += vals
deg_all = np.array(deg_all, dtype=float)
pr_all = np.array(pr_all)
shade = np.interp(pr_all, pr_colour_at, pr_colour_val)
order = np.argsort(shade)
ax.scatter(deg_all[order], pr_all[order] * 1e-4, s=S_TOP + 4, c=shade[order], cmap="plasma", vmin=0, vmax=1, alpha=0.6, linewidths=0)
ax.set_xlim(10 ** -0.105, 10 ** 2.222)
ax.set_ylim(4.56e-5, 5.08e-4)
log_ticks(ax.xaxis)
pr_ticks(ax.yaxis)
name_axes(ax, "degree", "pagerank", 1436, l, T1, r, B1, xl1)

# pagerank / pagerank_count
l, r = COLS[2]
ax = make_axes(l, T1, r, B1)
ax.set_xscale("log")
ax.set_yscale("log")
xs, ys = stacked(pagerank_bin, pagerank_bin_count)
ax.scatter(np.array(xs) * 1e-4, ys, s=S_TOP, c=BLUE, alpha=0.6, linewidths=0)
ax.scatter(np.array(pagerank_single) * 1e-4, [1] * len(pagerank_single), s=S_TOP, c=BLUE, alpha=0.6, linewidths=0)
ax.set_xlim(4.58e-5, 5.14e-4)
ax.set_ylim(10 ** -0.109, 10 ** 2.352)
pr_ticks(ax.xaxis)
log_ticks(ax.yaxis)
ax.tick_params(axis="x", which="major", length=9)
name_axes(ax, "pagerank", "pagerank_count", 2054, l, T1, r, B1, xl1)
# the last x labels run off the plot's canvas on the page
for t_lab in ax.get_xticklabels():
    t_lab.set_clip_on(True)
    t_lab.set_clip_box(Bbox([[0, 0], [2651, H]]))

# clustering_coefficient / count
l, r = COLS[3]
ax = make_axes(l, T1, r, B1)
ax.set_xscale("log")
ax.set_yscale("log")
xs, ys = stacked(cc_bin, cc_count)
ax.scatter(xs, ys, s=S_TOP, c=BLUE, alpha=0.6, linewidths=0)
for n, vals in [(3, cc_three), (2, cc_two), (1, cc_one)]:
    xs, ys = stacked(vals, [n] * len(vals))
    ax.scatter(xs, ys, s=S_TOP, c=BLUE, alpha=0.6, linewidths=0)
ax.set_xlim(10 ** -3.469, 10 ** 0.168)
ax.set_ylim(10 ** -0.156, 10 ** 3.358)
log_ticks(ax.xaxis)
log_ticks(ax.yaxis)
name_axes(ax, "clustering_coefficient", "clustering_coefficient_count", 2672, l, T1, r, B1, xl1)

# singular vectors
sv_plots = [(sv1_sv2 + sv1_sv2_core, "sv1", "sv2", (-.322, .0149), (-.350, .0938), .05, .01, 827.5),
            (sv3_sv4 + sv3_sv4_core, "sv3", "sv4", (-.1995, .1566), (-.303, .2034), .05, .01, 1485),
            (sv5_sv6 + sv5_sv6_core, "sv5", "sv6", (-.2492, .153), (-.2756, .2496), .1, .02, 2064),
            (sv7_sv8 + sv7_sv8_core, "sv7", "sv8", (-.3273, .150), (-.2107, .2926), .1, .02, 2682)]
for (l, r), (pts, xname, yname, xlim, ylim, xstep, xminor, ylab) in zip(COLS, sv_plots):
    ax = make_axes(l, T2, r, B2)
    ax.tick_params(axis="x", which="major", pad=7)
    pts = np.array(pts)
    ax.scatter(pts[:, 0], pts[:, 1], s=S_BOT, c=BLUE, alpha=0.6, linewidths=0)
    ax.set_xlim(*xlim)
    ax.set_ylim(*ylim)
    ax.xaxis.set_major_locator(MultipleLocator(xstep))
    ax.xaxis.set_minor_locator(MultipleLocator(xminor))
    ax.yaxis.set_major_locator(MultipleLocator(.1))
    ax.yaxis.set_minor_locator(MultipleLocator(.02))
    ax.xaxis.set_major_formatter(num_fmt)
    ax.yaxis.set_major_formatter(num_fmt)
    name_axes(ax, xname, yname, ylab, l, T2, r, B2, xl2)

fig.savefig("out.png", dpi=100)
